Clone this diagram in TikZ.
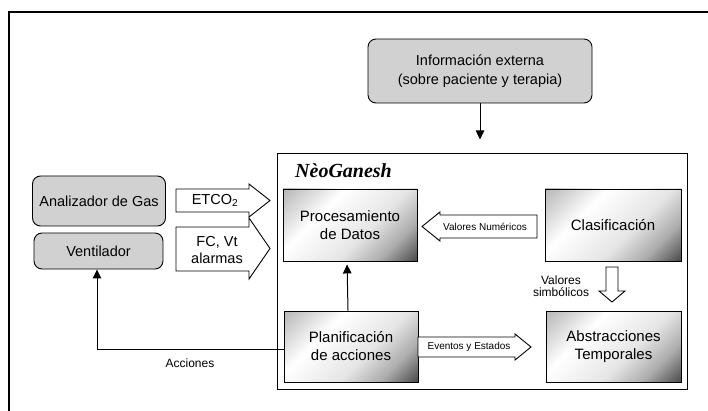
\documentclass[tikz,border=0pt]{standalone}
\usepackage{fontspec}
\setmainfont{Liberation Sans}
\newfontfamily\titlefont{Liberation Serif}
\usetikzlibrary{arrows.meta}

\definecolor{boxgray}{gray}{0.82}
\definecolor{shA}{gray}{0.72}
\definecolor{shB}{gray}{0.90}
\definecolor{shM}{gray}{0.68}
\definecolor{shC}{gray}{0.30}
\pgfdeclarehorizontalshading{panelshade}{100bp}{color(0bp)=(shA); color(15bp)=(shA); color(36bp)=(white); color(58bp)=(shB); color(72bp)=(shM); color(85bp)=(shC); color(100bp)=(shC)}

\tikzset{
  roundbox/.style={draw, line width=0.9pt, rounded corners=8pt, fill=boxgray,
    align=center, font=\fontsize{14.5}{19}\selectfont, inner sep=0pt},
  panel/.style={draw, line width=0.9pt, shade, shading=panelshade, shading angle=-45,
    align=center, font=\fontsize{15}{18}\selectfont, inner sep=0pt},
  wire/.style={line width=1pt, -{Triangle[length=9pt,width=8.5pt]}},
  blockarrow/.style={draw, line width=0.9pt, fill=white, line join=miter},
  bigtxt/.style={font=\fontsize{14.5}{17}\selectfont, align=center, inner sep=0pt},
  smalltxt/.style={font=\fontsize{10}{12}\selectfont, inner sep=0pt},
  midtxt/.style={font=\fontsize{12}{12.5}\selectfont, align=center, inner sep=0pt},
}

\begin{document}
\begin{tikzpicture}[x=1pt, y=-1pt]
  \useasboundingbox (0,0) rectangle (708,411);

  % open page frame (left and top edges)
  \draw[line width=2pt] (8.7,420) -- (8.7,12) -- (720,12);

  % external information source
  \node[roundbox, minimum width=224pt, minimum height=64pt] (info) at (480,71)
    {Información externa\\(sobre paciente y terapia)};

  % devices
  \node[roundbox, minimum width=133pt, minimum height=50pt] (gas) at (99,201) {Analizador de Gas};
  \node[roundbox, minimum width=129pt, minimum height=36pt] (vent) at (98.5,251) {Ventilador};

  % NeoGanesh system frame
  \node[draw, line width=0.9pt, minimum width=410pt, minimum height=236pt] (ng) at (482,271) {};
  \node[anchor=west, inner sep=0pt, font=\titlefont\bfseries\itshape\fontsize{20}{24}\selectfont] (title) at (295,171) {NèoGanesh};

  % internal modules
  \node[panel, minimum width=134pt, minimum height=72pt] (proc) at (350,225) {Procesamiento\\de Datos};
  \node[panel, minimum width=136pt, minimum height=72pt] (clas) at (613,225) {Clasificación};
  \node[panel, minimum width=134pt, minimum height=71pt] (plan) at (351,346.5) {Planificación\\de acciones};
  \node[panel, minimum width=135pt, minimum height=71pt] (abst) at (613.5,346.5) {Abstracciones\\Temporales};

  % external info into the system
  \draw[wire] (info.south) -- ++(0,36);

  % measured signals
  \path[blockarrow] (176,189) -- (249,189) -- (249,184) -- (270,200.5) -- (249,217) -- (249,212) -- (176,212) -- cycle;
  \node[bigtxt] (etco) at (215,200.5) {ETCO\textsubscript{2}};
  \path[blockarrow] (176,227) -- (249,227) -- (249,218) -- (270,248.5) -- (249,279) -- (249,271) -- (176,271) -- cycle;
  \node[bigtxt] (fcvt) at (217,250) {FC, Vt\\alarmas};

  % numeric values back to data processing
  \path[blockarrow] (537,215) -- (440,215) -- (440,212) -- (422,226.5) -- (440,241) -- (440,238) -- (537,238) -- cycle;
  \node[smalltxt] (vnum) at (485,226.5) {Valores Numéricos};

  % symbolic values down to temporal abstractions
  \path[blockarrow] (606,267) -- (618,267) -- (618,291) -- (625,291) -- (612,302) -- (599,291) -- (606,291) -- cycle;
  \node[midtxt] (vsim) at (561,286) {Valores\\simbólicos};

  % events and states
  \path[blockarrow] (418,337) -- (515,337) -- (515,334) -- (531,347) -- (515,360) -- (515,357) -- (418,357) -- cycle;
  \node[smalltxt] (evt) at (469,347) {Eventos y Estados};

  % planning feeds data processing
  \draw[wire, shorten >=3pt] ([xshift=-3pt]plan.north) -- ([xshift=-3pt]proc.south);

  % actions to the ventilator
  \coordinate (acc) at (97,349);
  \draw[wire] (plan.west |- acc) -- (acc) -- (acc |- vent.south);
  \node[midtxt] (acclbl) at (190,363) {Acciones};
\end{tikzpicture}
\end{document}
